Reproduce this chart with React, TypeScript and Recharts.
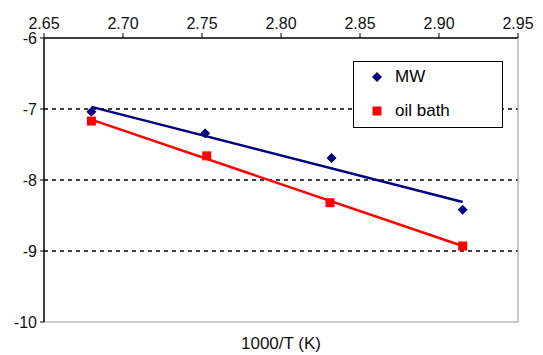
import { ComposedChart, Line, Scatter, XAxis, YAxis, ReferenceLine } from 'recharts';

const xTicks = [2.65, 2.7, 2.75, 2.8, 2.85, 2.9, 2.95];
const yTicks = [-10, -9, -8, -7, -6];
const gridValues = [-7, -8, -9];

const mwPoints = [
  { x: 2.68, y: -7.04 },
  { x: 2.752, y: -7.34 },
  { x: 2.832, y: -7.69 },
  { x: 2.915, y: -8.42 },
];
const oilPoints = [
  { x: 2.68, y: -7.17 },
  { x: 2.753, y: -7.66 },
  { x: 2.831, y: -8.32 },
  { x: 2.915, y: -8.93 },
];
const mwTrend = [
  { x: 2.68, y: -6.97 },
  { x: 2.915, y: -8.31 },
];
const oilTrend = [
  { x: 2.68, y: -7.15 },
  { x: 2.915, y: -8.93 },
];

const NAVY = '#000080';
const RED = '#ff0000';
const FONT = '"Liberation Sans", Arial, sans-serif';

const Diamond = ({ cx, cy }: any) => (
  <path d={`M${cx},${cy - 5}L${cx + 5},${cy}L${cx},${cy + 5}L${cx - 5},${cy}Z`} fill={NAVY} />
);
const Square = ({ cx, cy }: any) => <rect x={cx - 4.5} y={cy - 4.5} width={9} height={9} fill={RED} />;

const legendItems = [
  { name: 'MW', shape: 'diamond' },
  { name: 'oil bath', shape: 'square' },
];

function LegendBox() {
  return (
    <div
      style={{
        position: 'absolute',
        left: 345,
        top: 53,
        width: 148,
        height: 65,
        border: '1px solid #000',
        background: '#fff',
        fontFamily: FONT,
        fontSize: 17,
        color: '#000',
      }}
    >
      {legendItems.map((it, i) => (
        <div key={it.name} style={{ position: 'absolute', left: 17, top: i === 0 ? 5 : 39, display: 'flex', alignItems: 'center' }}>
          <svg width={12} height={12} style={{ marginRight: 12 }}>
            {it.shape === 'diamond' ? <Diamond cx={6} cy={6} /> : <Square cx={6} cy={6} />}
          </svg>
          <span>{it.name}</span>
        </div>
      ))}
    </div>
  );
}

export default function App() {
  return (
    <div style={{ position: 'relative', width: 535, height: 347 }}>
      <ComposedChart
        width={535}
        height={347}
        margin={{ top: 6, right: 0, bottom: 0, left: 6 }}
        style={{ fontFamily: FONT }}
      >
        <XAxis
          xAxisId={0}
          dataKey="x"
          type="number"
          orientation="top"
          domain={[2.65, 2.95]}
          ticks={xTicks}
          tickFormatter={(v: number) => v.toFixed(2)}
          allowDataOverflow
          height={24}
          tickSize={5}
          tickMargin={4}
          axisLine={{ stroke: '#000', strokeWidth: 1.5 }}
          tickLine={{ stroke: '#000' }}
          tick={{ fontSize: 16, fill: '#111' }}
        />
        <XAxis
          xAxisId="bottom"
          dataKey="x"
          type="number"
          orientation="bottom"
          domain={[2.65, 2.95]}
          height={33}
          tick={false}
          tickLine={false}
          axisLine={{ stroke: '#999', strokeWidth: 1 }}
          label={{ value: '1000/T (K)', position: 'insideBottom', offset: 6, fontSize: 17, fill: '#111' }}
        />
        <YAxis
          yAxisId={0}
          dataKey="y"
          type="number"
          domain={[-10, -6]}
          ticks={yTicks}
          allowDataOverflow
          width={30}
          tickSize={4}
          tickMargin={3}
          axisLine={{ stroke: '#000', strokeWidth: 1.5 }}
          tickLine={{ stroke: '#000' }}
          tick={{ fontSize: 16, fill: '#111' }}
        />
        <YAxis
          yAxisId="right"
          orientation="right"
          type="number"
          domain={[-10, -6]}
          width={25}
          tick={false}
          tickLine={false}
          axisLine={{ stroke: '#999', strokeWidth: 1 }}
        />
        {gridValues.map((v) => (
          <ReferenceLine key={v} y={v} stroke="#000" strokeWidth={1.3} strokeDasharray="4 4" />
        ))}
        <Line data={mwTrend} dataKey="y" stroke={NAVY} strokeWidth={2.5} dot={false} isAnimationActive={false} />
        <Line data={oilTrend} dataKey="y" stroke={RED} strokeWidth={2.5} dot={false} isAnimationActive={false} />
        <Scatter data={mwPoints} dataKey="y" shape={Diamond} isAnimationActive={false} />
        <Scatter data={oilPoints} dataKey="y" shape={Square} isAnimationActive={false} />
      </ComposedChart>
      <LegendBox />
    </div>
  );
}
